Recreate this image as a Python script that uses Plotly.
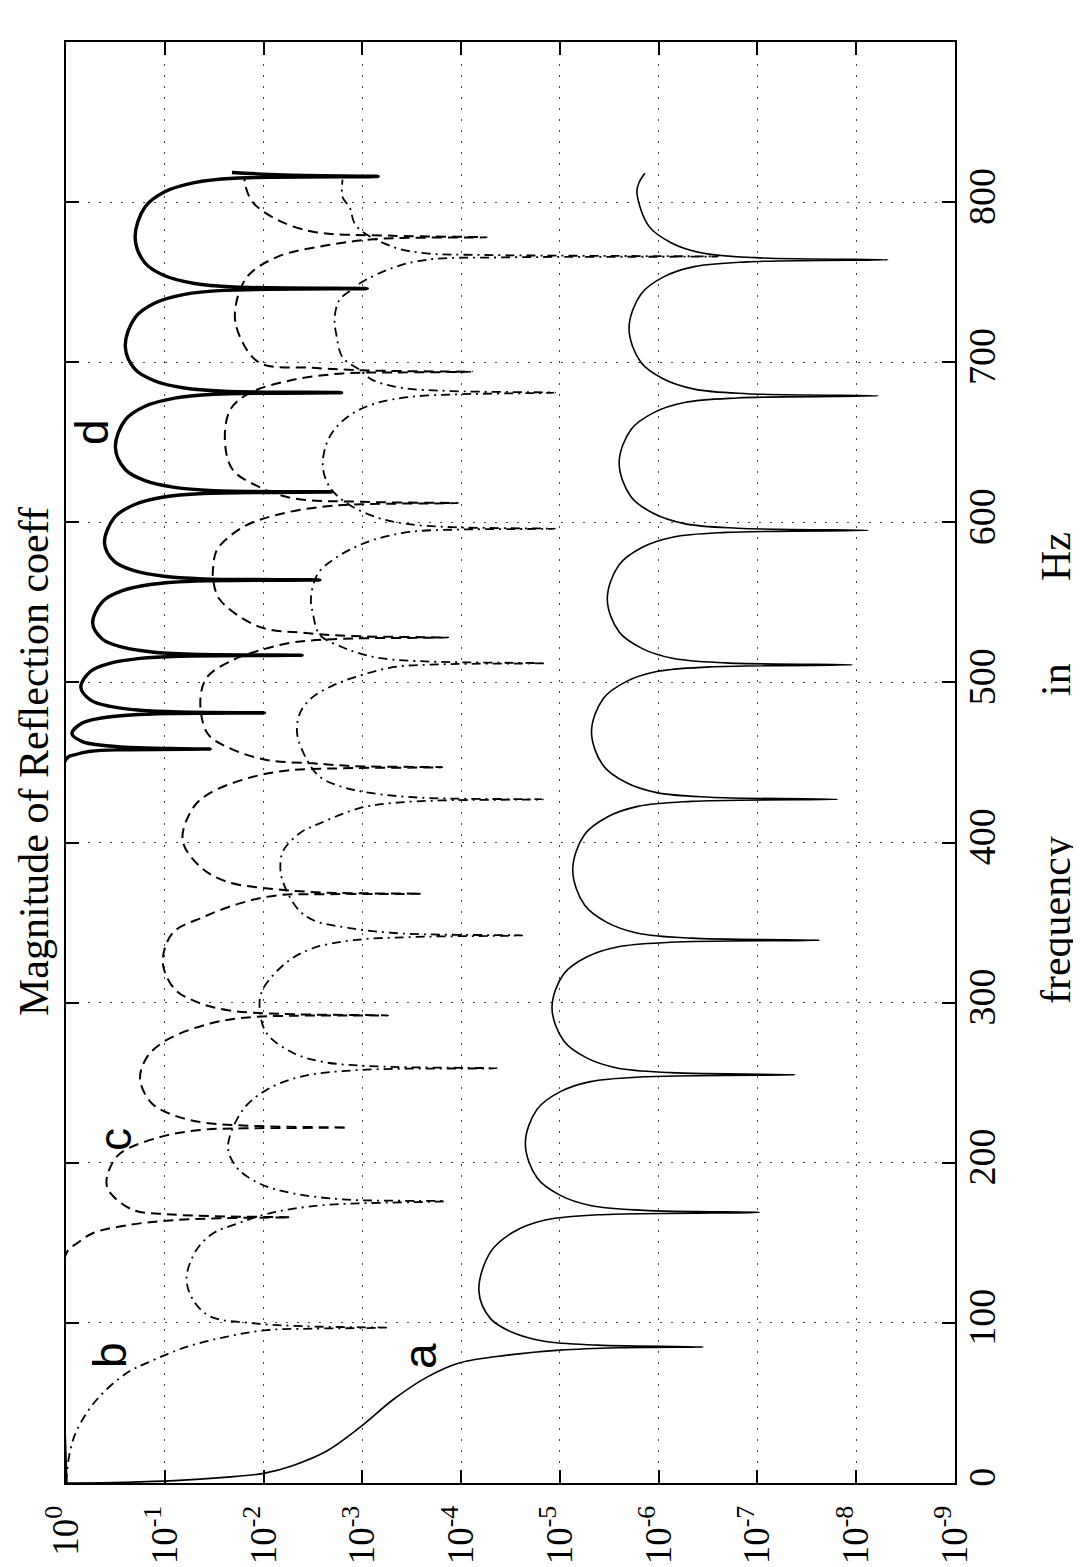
import plotly.graph_objects as go

# ---------------- data (frequency in Hz, log10 |R|) ----------------
FREQ_A = [0, 0.5, 1.5, 3.5, 6, 11, 20, 35, 52, 66, 75, 80, 83, 84.5, 85,
          86.1, 88.5, 93.8, 102.5, 120, 144.5, 156.8, 164.1, 167.5, 169,
          170.3, 173.3, 179.8, 190.5, 212, 233.5, 244.3, 250.7, 253.7, 255,
          256.3, 259.2, 265.5, 276, 297, 318, 328.5, 334.8, 337.7, 339,
          340.3, 343.4, 350, 361, 383, 405, 416, 422.6, 425.7, 427,
          428.3, 431.2, 437.5, 448, 469, 490, 500.5, 506.8, 509.7, 511,
          512.2, 515.1, 521.3, 531.5, 552, 573.5, 584.3, 590.7, 593.7, 595,
          596.3, 599.2, 605.5, 616, 637, 658, 668.5, 674.8, 677.7, 679,
          680.3, 683.2, 689.5, 700, 721, 742.5, 753.3, 759.7, 762.7, 764,
          765.3, 768.2, 774.5, 785, 806, 812, 818]
LOGR_A = [0, -0.6, -1.1, -1.6, -2.0, -2.3, -2.64, -2.98, -3.31, -3.65, -3.98, -4.49, -5.0, -5.6, -6.45,
          -5.38, -4.84, -4.53, -4.30, -4.18, -4.30, -4.53, -4.84, -5.38, -7.02,
          -5.85, -5.31, -5.00, -4.77, -4.65, -4.77, -5.00, -5.31, -5.85, -7.38,
          -6.12, -5.58, -5.27, -5.04, -4.92, -5.04, -5.27, -5.58, -6.12, -7.63,
          -6.33, -5.79, -5.48, -5.25, -5.13, -5.25, -5.48, -5.79, -6.33, -7.81,
          -6.52, -5.98, -5.67, -5.44, -5.32, -5.44, -5.67, -5.98, -6.52, -7.96,
          -6.68, -6.14, -5.83, -5.60, -5.48, -5.60, -5.83, -6.14, -6.68, -8.12,
          -6.80, -6.26, -5.95, -5.72, -5.60, -5.72, -5.95, -6.26, -6.80, -8.22,
          -6.90, -6.36, -6.05, -5.82, -5.70, -5.82, -6.05, -6.36, -6.90, -8.32,
          -6.98, -6.44, -6.13, -5.90, -5.78, -5.80, -5.86]

FREQ_B = [0, 19.6, 33, 52, 68.5, 75, 85, 91.4, 95.5, 96.4, 97,
          97.9, 100, 104, 114, 128, 145.5, 156, 161, 168.6, 173.5, 176,
          177, 181, 187, 197, 210, 233, 245.5, 253.7, 258, 259,
          260.2, 262.9, 268.6, 281, 297, 308, 325, 334, 339, 341, 342,
          343.2, 346.6, 351.6, 359, 376.6, 386, 395, 406, 412, 421.6, 424.7, 426.3, 427,
          428, 431, 434.7, 441, 451.6, 468, 481, 491, 498, 503, 509.5, 511.3, 512,
          513, 515, 518, 522, 529.7, 543, 553, 568, 576.5, 582.8, 589, 594, 595.5, 596,
          597, 599, 603, 612, 622, 634.6, 649.6, 659.6, 668.3, 674.6, 678.3, 680, 681,
          682, 684, 689, 695, 703, 716, 728, 739, 746, 749.5, 759, 764, 765.5, 766,
          767, 768, 772, 785, 797, 803, 814]
LOGR_B = [0, -0.04, -0.11, -0.31, -0.61, -0.82, -1.22, -1.63, -2.03, -2.5, -3.25,
          -2.42, -1.85, -1.46, -1.29, -1.22, -1.32, -1.49, -1.69, -2.07, -2.6, -3.84,
          -2.84, -2.29, -1.96, -1.73, -1.64, -1.79, -2.03, -2.37, -2.98, -4.36,
          -3.15, -2.61, -2.30, -2.03, -1.96, -1.99, -2.23, -2.50, -2.91, -3.5, -4.62,
          -3.4, -2.87, -2.50, -2.34, -2.19, -2.17, -2.20, -2.37, -2.57, -2.98, -3.31, -3.8, -4.83,
          -3.6, -3.08, -2.80, -2.57, -2.44, -2.34, -2.37, -2.50, -2.70, -2.91, -3.31, -3.8, -4.85,
          -3.7, -3.2, -2.98, -2.80, -2.57, -2.50, -2.48, -2.55, -2.70, -2.87, -3.11, -3.48, -4.0, -4.95,
          -3.9, -3.45, -3.15, -2.84, -2.67, -2.60, -2.64, -2.74, -2.91, -3.15, -3.48, -4.0, -4.95,
          -3.9, -3.4, -3.1, -2.98, -2.80, -2.74, -2.72, -2.77, -2.91, -2.98, -3.31, -3.65, -4.47, -6.6,
          -4.2, -3.65, -3.31, -2.94, -2.87, -2.80, -2.80]

FREQ_C = [0, 143, 150, 156, 161, 164, 165.4, 166,
          166.6, 168, 170.5, 181, 187, 196, 206, 216, 220.5, 221.5, 222,
          222.9, 225, 229.5, 237, 252, 266, 276.7, 287, 291, 292,
          293, 295.3, 300.3, 308.5, 325, 343.5, 353.5, 362, 367, 367.7, 368,
          368.8, 371, 375.5, 384.8, 401.6, 422, 431, 440, 445, 446.4, 447,
          447.8, 449.5, 451.6, 459.7, 468.4, 489, 503.4, 514, 520, 525, 527.3, 528,
          529, 531, 534.7, 551.5, 564, 572, 583, 597, 604.6, 609.6, 611.3, 612,
          612.8, 615, 622, 632.7, 649.6, 670, 680.8, 689, 693, 693.6, 694,
          694.8, 696.5, 699.6, 716, 731, 753, 765.8, 773, 777, 778,
          779, 781.5, 789, 800, 812, 816]
LOGR_C = [0, 0, -0.12, -0.27, -0.62, -1.05, -1.6, -2.27,
          -1.5, -1.0, -0.68, -0.45, -0.41, -0.44, -0.55, -0.95, -1.36, -1.8, -2.85,
          -1.95, -1.41, -1.10, -0.87, -0.75, -0.82, -1.02, -1.46, -1.89, -3.26,
          -2.18, -1.64, -1.33, -1.10, -0.98, -1.08, -1.39, -1.76, -2.13, -2.6, -3.6,
          -2.6, -2.1, -1.63, -1.36, -1.18, -1.29, -1.46, -1.83, -2.24, -2.8, -3.81,
          -2.9, -2.5, -2.03, -1.63, -1.43, -1.36, -1.43, -1.69, -1.96, -2.30, -2.8, -3.87,
          -2.9, -2.4, -1.96, -1.56, -1.49, -1.49, -1.53, -1.79, -2.13, -2.57, -3.0, -3.97,
          -3.0, -2.30, -1.96, -1.69, -1.61, -1.66, -1.86, -2.30, -2.80, -3.3, -4.11,
          -3.1, -2.5, -1.96, -1.76, -1.71, -1.83, -2.14, -2.64, -3.15, -4.26,
          -3.3, -2.5, -2.14, -1.89, -1.81, -1.81]

FREQ_D = [0, 452, 455, 457, 458, 458.4,
          458.7, 459.4, 460.8, 463.2, 468, 474.5, 477.8, 479.7, 480.6, 481,
          481.5, 482.6, 485, 489, 497, 507, 512, 515, 516.4, 517,
          517.6, 519, 522, 527, 537, 550.5, 557.3, 561.3, 563.2, 564,
          564.7, 566.3, 569.8, 575.5, 587, 603, 611, 615.8, 618, 619,
          619.8, 621.8, 626, 633, 647, 664, 672.5, 677.6, 680, 681,
          681.9, 683.9, 688.3, 695.5, 710, 728, 737, 742.4, 744.9, 746,
          747, 749.2, 754, 762, 778, 797, 806.5, 812.2, 814.9, 816,
          817, 818.5]
LOGR_D = [0, 0, -0.1, -0.25, -0.6, -1.46,
          -1.06, -0.66, -0.36, -0.16, -0.06, -0.16, -0.36, -0.66, -1.06, -2.01,
          -1.15, -0.75, -0.45, -0.25, -0.15, -0.25, -0.45, -0.75, -1.15, -2.39,
          -1.27, -0.87, -0.57, -0.37, -0.27, -0.37, -0.57, -0.87, -1.27, -2.57,
          -1.39, -0.99, -0.69, -0.49, -0.39, -0.49, -0.69, -0.99, -1.39, -2.69,
          -1.50, -1.10, -0.80, -0.60, -0.50, -0.60, -0.80, -1.10, -1.50, -2.79,
          -1.60, -1.20, -0.90, -0.70, -0.60, -0.70, -0.90, -1.20, -1.60, -3.05,
          -1.70, -1.30, -1.00, -0.80, -0.70, -0.80, -1.00, -1.30, -1.70, -3.16,
          -2.2, -1.68]

MAG_TICK_EXP = [0, -1, -2, -3, -4, -5, -6, -7, -8, -9]
FREQ_TICKS = [0, 100, 200, 300, 400, 500, 600, 700, 800, 900]

TITLE = "Magnitude of Reflection coeff"
XLABEL_WORDS = ["frequency", "in", "Hz"]
CURVE_LABELS = ["a", "b", "c", "d"]

# ---------------- figure ----------------
def mags(logs):
    return [10 ** v for v in logs]

fig = go.Figure()
styles = [
    (FREQ_A, LOGR_A, dict(color="black", width=1.6, dash="solid")),
    (FREQ_B, LOGR_B, dict(color="black", width=1.8, dash="9px,5px,2px,5px")),
    (FREQ_C, LOGR_C, dict(color="black", width=2.0, dash="10px,6px")),
    (FREQ_D, LOGR_D, dict(color="black", width=3.4, dash="solid")),
]
for f, lg, ln in styles:
    fig.add_trace(go.Scatter(x=mags(lg), y=f, mode="lines",
                             line=dict(shape="spline", smoothing=1.0, **ln),
                             showlegend=False, hoverinfo="skip"))

serif = "Liberation Serif, Times New Roman, serif"
# the page has the default 8px body margin; the figure fills the rest of the window
OFF = 8
W, H = 1081 - OFF, 1567 - OFF
PL, PR, PT, PB = 66, 955, 42, 1483          # plot box in page pixels
L, T = PL - OFF, PT - OFF
R = W - (PR - OFF)
B = H - (PB - OFF)
pw, ph = PR - PL, PB - PT

def px(x):
    return (x - PL) / pw

def py(y):
    return (PB - y) / ph

ticktext = ["10<sup>%d</sup>" % e for e in MAG_TICK_EXP]

fig.update_layout(
    width=W, height=H,
    margin=dict(l=L, r=R, t=T, b=B),
    paper_bgcolor="white", plot_bgcolor="white",
    xaxis=dict(type="log", range=[0, -9], autorange=False,
               tickvals=[10 ** e for e in MAG_TICK_EXP], ticktext=ticktext,
               tickangle=-90, ticks="inside", ticklen=13, tickwidth=2,
               tickcolor="black", showline=True, linewidth=2, linecolor="black",
               mirror="ticks", showgrid=True, gridcolor="#444", gridwidth=1.3,
               griddash="2px,9px", zeroline=False, automargin=False,
               tickfont=dict(family=serif, size=37, color="black"),
               ticklabelstandoff=6),
    yaxis=dict(range=[0, 900], autorange=False, tickvals=FREQ_TICKS,
               side="right", tickangle=-90, ticks="inside", ticklen=13,
               tickwidth=2, tickcolor="black", showline=True, linewidth=2,
               linecolor="black", mirror="ticks", showgrid=True,
               gridcolor="#444", gridwidth=1.3, griddash="2px,9px",
               zeroline=False, automargin=False,
               tickfont=dict(family=serif, size=38, color="black"),
               ticklabelstandoff=-8),
)

annotations = [
    dict(text=TITLE, x=px(34), y=py(762), textangle=-90,
         font=dict(family=serif, size=42, color="black")),
    dict(text=XLABEL_WORDS[0], x=px(1056), y=py(920), textangle=-90,
         font=dict(family=serif, size=42, color="black")),
    dict(text=XLABEL_WORDS[1], x=px(1056), y=py(680), textangle=-90,
         font=dict(family=serif, size=42, color="black")),
    dict(text=XLABEL_WORDS[2], x=px(1056), y=py(557), textangle=-90,
         font=dict(family=serif, size=42, color="black")),
]
label_pos = [(420, 1356), (110, 1355), (115, 1140), (92, 432)]
for lab, (lx, ly) in zip(CURVE_LABELS, label_pos):
    annotations.append(dict(text=lab, x=px(lx), y=py(ly), textangle=-90,
                            font=dict(family="Liberation Sans, Arial, sans-serif",
                                      size=46, color="black")))
for a in annotations:
    a.update(xref="paper", yref="paper", showarrow=False,
             xanchor="center", yanchor="middle")
fig.update_layout(annotations=annotations)

fig.write_html("out.html")
